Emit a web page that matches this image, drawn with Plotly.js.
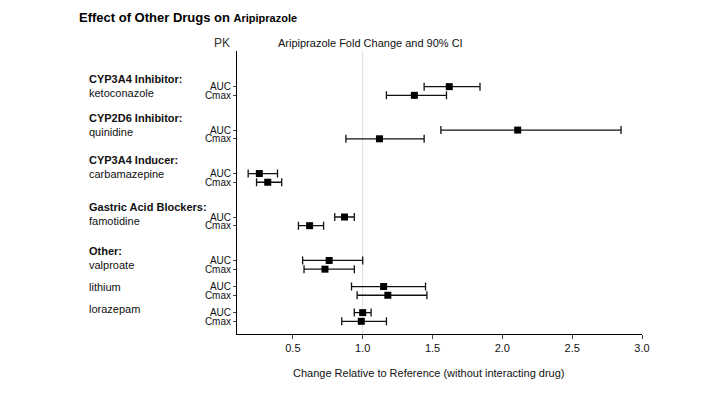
<!DOCTYPE html>
<html><head><meta charset="utf-8">
<script src="https://cdn.plot.ly/plotly-3.0.1.min.js"></script>
<style>html,body{margin:0;padding:0;background:#fff}#chart{width:709px;height:397px}</style>
</head><body><div id="chart"></div>
<script>
const drugs = ["ketoconazole","quinidine","carbamazepine","famotidine","valproate","lithium","lorazepam"];
const drugClasses = ["CYP3A4 Inhibitor:","CYP2D6 Inhibitor:","CYP3A4 Inducer:","Gastric Acid Blockers:","Other:","",""];
const pkLabels = ["AUC","Cmax"];
const aucRatio = [1.62,2.11,0.26,0.87,0.76,1.15,1.00];
const aucLow   = [1.44,1.56,0.18,0.80,0.57,0.92,0.94];
const aucHigh  = [1.84,2.85,0.39,0.94,1.00,1.45,1.06];
const cmaxRatio = [1.37,1.12,0.32,0.62,0.73,1.18,0.99];
const cmaxLow   = [1.17,0.88,0.24,0.54,0.58,0.96,0.85];
const cmaxHigh  = [1.60,1.44,0.42,0.72,0.94,1.46,1.17];

// layout only: blank rows after each drug block, and label offsets (in rows)
const gapAfter = [3,3,3,3,1,1,0];
const nameOffset = [0.7,0.2,0,0.5,0.5,0,-0.4];
const xs=[], ys=[], lo=[], hi=[], tv=[], tt=[], aucRows=[];
let r=0;
drugs.forEach((d,i)=>{
  aucRows.push(r);
  [[aucRatio,aucLow,aucHigh],[cmaxRatio,cmaxLow,cmaxHigh]].forEach((s,k)=>{
    xs.push(s[0][i]); ys.push(r+k);
    hi.push(+(s[2][i]-s[0][i]).toFixed(3)); lo.push(+(s[0][i]-s[1][i]).toFixed(3));
    tv.push(r+k); tt.push(pkLabels[k]);
  });
  r += 2 + gapAfter[i];
});

const fam = '"Liberation Sans", Arial, sans-serif';
const txtFont = {family:fam, size:11, color:'#111'};
const annotations = [];
const plotTop = 51, plotBottom = 334, plotLeft = 237, plotW = 405;
const py = px => (plotBottom - px)/(plotBottom - plotTop);
const pxX = px => (px - plotLeft)/plotW;
drugs.forEach((d,i)=>{
  const yv = aucRows[i] + nameOffset[i];
  annotations.push({xref:'paper',yref:'y',x:pxX(87),y:yv,text:d,showarrow:false,xanchor:'left',yanchor:'middle',font:txtFont});
  if(drugClasses[i]) annotations.push({xref:'paper',yref:'y',x:pxX(87),y:yv,yshift:14,text:'<b>'+drugClasses[i]+'</b>',showarrow:false,xanchor:'left',yanchor:'middle',font:txtFont});
});
annotations.push({xref:'paper',yref:'paper',x:pxX(222),y:py(43),text:'PK',showarrow:false,xanchor:'center',yanchor:'middle',font:{family:fam,size:12,color:'#333'}});
annotations.push({xref:'paper',yref:'paper',x:pxX(370),y:py(43),text:'Aripiprazole Fold Change and 90% CI',showarrow:false,xanchor:'center',yanchor:'middle',font:txtFont});
annotations.push({xref:'paper',yref:'paper',x:pxX(428),y:py(373),text:'Change Relative to Reference (without interacting drug)',showarrow:false,xanchor:'center',yanchor:'middle',font:txtFont});

const trace = {
  type:'scatter', mode:'markers', x:xs, y:ys,
  marker:{symbol:'square', size:7, color:'#000'},
  error_x:{type:'data', symmetric:false, array:hi, arrayminus:lo, color:'#111', thickness:1.3, width:4},
  hoverinfo:'x', showlegend:false
};

const layout = {
  width:709, height:397,
  margin:{l:237, r:67, t:51, b:63},
  paper_bgcolor:'#fff', plot_bgcolor:'#fff',
  title:{text:'<b>Effect of Other Drugs on </b><b><span style="font-size:11px">Aripiprazole</span></b>', x:79/709, xref:'container', xanchor:'left', y:1-17/397, yref:'container', yanchor:'middle', font:{family:fam,size:13,color:'#000'}},
  xaxis:{range:[0.1,3.0], tickvals:[0.5,1.0,1.5,2.0,2.5,3.0], ticktext:['0.5','1.0','1.5','2.0','2.5','3.0'],
    showgrid:false, zeroline:false, showline:true, linecolor:'#000', linewidth:1, ticks:'outside', ticklen:4, tickcolor:'#444',
    tickfont:txtFont},
  yaxis:{range:[28.46,-4.1], tickvals:tv, ticktext:tt, showgrid:false, zeroline:false, showline:true, linecolor:'#000', linewidth:1,
    ticks:'outside', ticklen:3, tickcolor:'#444', tickfont:{family:fam,size:10,color:'#111'}},
  shapes:[{type:'line', xref:'x', yref:'paper', x0:1, x1:1, y0:0, y1:1, line:{color:'#ddd', width:1}, layer:'below'}],
  annotations
};
Plotly.newPlot('chart',[trace],layout,{displayModeBar:false,staticPlot:true});
</script></body></html>
